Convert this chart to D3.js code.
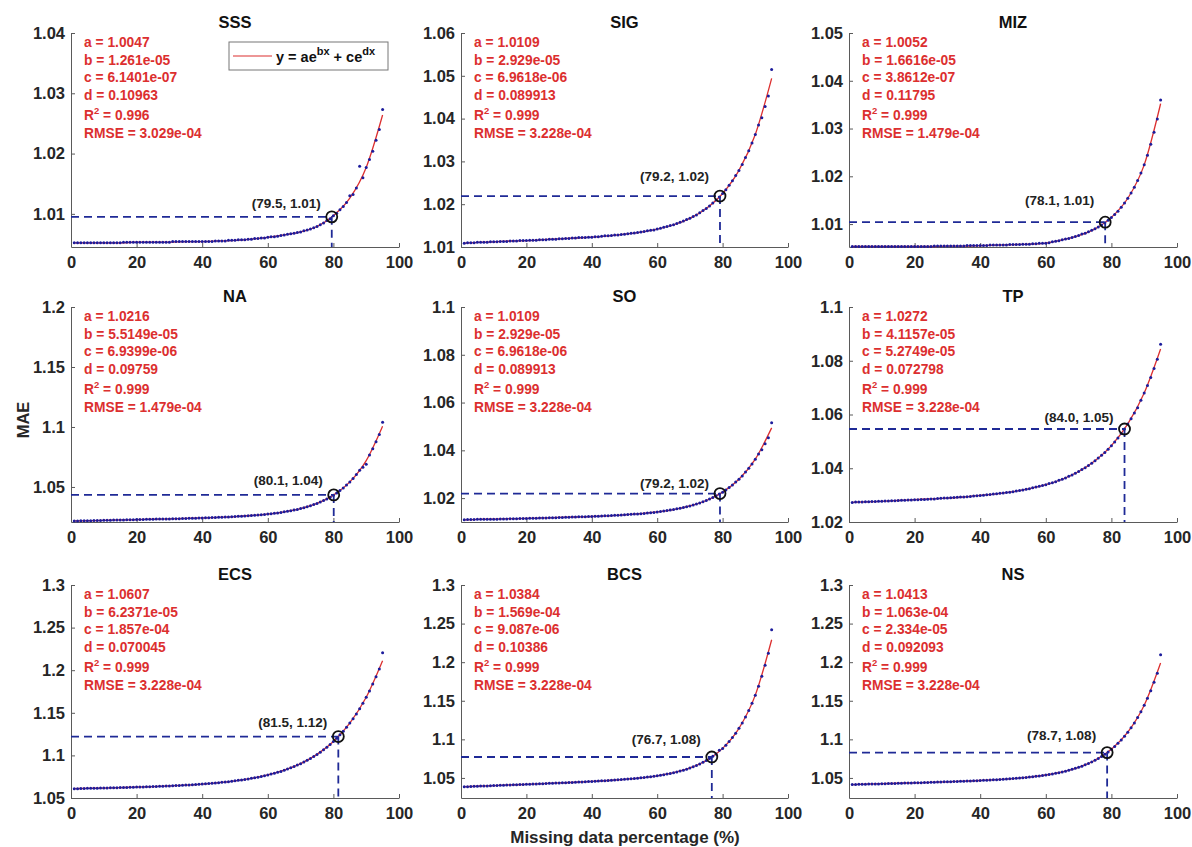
<!DOCTYPE html>
<html><head><meta charset="utf-8">
<script src="https://cdn.jsdelivr.net/npm/d3@7"></script>
<style>
body{margin:0;background:#fff}
svg{display:block}
text{font-family:"Liberation Sans",Arial,Helvetica,sans-serif}
</style>
</head><body>
<svg id="c" width="1192" height="847"></svg>
<script>
// ---------------- DATA ----------------
const PANEL_NAMES = ["SSS","SIG","MIZ","NA","SO","TP","ECS","BCS","NS"];
const MISSING_PCT = [1,2,3,4,5,6,7,8,9,10,11,12,13,14,15,16,17,18,19,20,21,22,23,24,25,26,27,28,29,30,
  31,32,33,34,35,36,37,38,39,40,41,42,43,44,45,46,47,48,49,50,51,52,53,54,55,56,57,58,59,60,
  61,62,63,64,65,66,67,68,69,70,71,72,73,74,75,76,77,78,79,80,81,82,83,84,85,86,87,88,89,90,91,92,93,94,95];
const X_TICKS = [0,20,40,60,80,100];

const SSS_MAE = [1.0052,1.0052,1.0052,1.0052,1.0052,1.0052,1.0052,1.0052,1.0052,1.0052,
 1.0052,1.0052,1.0052,1.0052,1.0052,1.0053,1.0053,1.0053,1.0053,1.0053,
 1.0053,1.0053,1.0053,1.0053,1.0053,1.0053,1.0053,1.0053,1.0053,1.0053,
 1.0054,1.0054,1.0054,1.0054,1.0054,1.0054,1.0054,1.0054,1.0054,1.0054,
 1.0054,1.0054,1.0054,1.0055,1.0055,1.0055,1.0055,1.0056,1.0056,1.0056,
 1.0057,1.0057,1.0057,1.0058,1.0058,1.0059,1.0059,1.0060,1.0060,1.0061,
 1.0062,1.0062,1.0063,1.0064,1.0065,1.0066,1.0067,1.0068,1.0069,1.0070,
 1.0072,1.0073,1.0075,1.0077,1.0079,1.0082,1.0085,1.0089,1.0092,1.0097,
 1.0101,1.0107,1.0112,1.0119,1.0130,1.0132,1.0143,1.0179,1.0160,1.0177,
 1.0190,1.0204,1.0222,1.0240,1.0273];
const SIG_MAE = [1.0109,1.0110,1.0110,1.0110,1.0111,1.0111,1.0111,1.0111,1.0112,1.0112,
 1.0112,1.0113,1.0113,1.0113,1.0114,1.0114,1.0114,1.0115,1.0115,1.0115,
 1.0116,1.0116,1.0116,1.0117,1.0117,1.0117,1.0118,1.0118,1.0118,1.0119,
 1.0119,1.0120,1.0120,1.0121,1.0121,1.0122,1.0122,1.0122,1.0123,1.0123,
 1.0124,1.0124,1.0125,1.0126,1.0126,1.0127,1.0128,1.0128,1.0129,1.0130,
 1.0131,1.0132,1.0133,1.0134,1.0135,1.0136,1.0138,1.0139,1.0140,1.0142,
 1.0144,1.0146,1.0148,1.0150,1.0152,1.0155,1.0158,1.0161,1.0164,1.0167,
 1.0171,1.0175,1.0180,1.0185,1.0190,1.0196,1.0203,1.0210,1.0217,1.0225,
 1.0234,1.0244,1.0255,1.0267,1.0279,1.0293,1.0309,1.0325,1.0343,1.0363,
 1.0385,1.0402,1.0428,1.0453,1.0515];
const MIZ_MAE = [1.0053,1.0053,1.0053,1.0053,1.0053,1.0053,1.0053,1.0053,1.0053,1.0053,
 1.0053,1.0053,1.0053,1.0053,1.0053,1.0053,1.0053,1.0053,1.0053,1.0053,
 1.0053,1.0053,1.0053,1.0053,1.0053,1.0054,1.0054,1.0054,1.0054,1.0054,
 1.0054,1.0054,1.0054,1.0054,1.0054,1.0055,1.0055,1.0055,1.0055,1.0055,
 1.0055,1.0055,1.0056,1.0056,1.0056,1.0056,1.0056,1.0056,1.0057,1.0057,
 1.0057,1.0057,1.0058,1.0058,1.0058,1.0059,1.0059,1.0060,1.0060,1.0060,
 1.0061,1.0063,1.0064,1.0065,1.0067,1.0069,1.0070,1.0072,1.0074,1.0076,
 1.0079,1.0081,1.0084,1.0087,1.0090,1.0094,1.0098,1.0103,1.0108,1.0114,
 1.0120,1.0127,1.0135,1.0144,1.0154,1.0165,1.0177,1.0191,1.0207,1.0224,
 1.0244,1.0267,1.0292,1.0320,1.0360];
const NA_MAE = [1.0217,1.0217,1.0218,1.0218,1.0219,1.0219,1.0220,1.0221,1.0221,1.0222,
 1.0222,1.0223,1.0224,1.0224,1.0225,1.0225,1.0226,1.0227,1.0227,1.0228,
 1.0229,1.0229,1.0230,1.0230,1.0231,1.0232,1.0232,1.0233,1.0234,1.0234,
 1.0235,1.0236,1.0236,1.0237,1.0238,1.0239,1.0239,1.0240,1.0241,1.0242,
 1.0243,1.0244,1.0245,1.0246,1.0247,1.0248,1.0249,1.0250,1.0251,1.0253,
 1.0255,1.0256,1.0258,1.0260,1.0262,1.0264,1.0266,1.0269,1.0271,1.0274,
 1.0277,1.0280,1.0284,1.0288,1.0293,1.0297,1.0302,1.0307,1.0313,1.0320,
 1.0327,1.0335,1.0343,1.0353,1.0363,1.0374,1.0387,1.0400,1.0415,1.0432,
 1.0450,1.0470,1.0492,1.0516,1.0542,1.0571,1.0603,1.0639,1.0665,1.0690,
 1.0767,1.0819,1.0876,1.0938,1.1040];
const SO_MAE = [1.0109,1.0110,1.0110,1.0110,1.0111,1.0111,1.0111,1.0111,1.0112,1.0112,
 1.0112,1.0113,1.0113,1.0113,1.0114,1.0114,1.0114,1.0115,1.0115,1.0115,
 1.0116,1.0116,1.0116,1.0117,1.0117,1.0117,1.0118,1.0118,1.0118,1.0119,
 1.0119,1.0120,1.0120,1.0121,1.0121,1.0122,1.0122,1.0122,1.0123,1.0123,
 1.0124,1.0124,1.0125,1.0126,1.0126,1.0127,1.0128,1.0128,1.0129,1.0130,
 1.0131,1.0132,1.0133,1.0134,1.0135,1.0136,1.0138,1.0139,1.0140,1.0142,
 1.0144,1.0146,1.0148,1.0150,1.0152,1.0155,1.0158,1.0161,1.0164,1.0167,
 1.0171,1.0175,1.0180,1.0185,1.0190,1.0196,1.0203,1.0210,1.0217,1.0225,
 1.0234,1.0244,1.0255,1.0267,1.0279,1.0293,1.0309,1.0325,1.0343,1.0363,
 1.0385,1.0402,1.0428,1.0453,1.0515];
const TP_MAE = [1.0273,1.0274,1.0274,1.0274,1.0275,1.0275,1.0276,1.0276,1.0277,1.0277,
 1.0278,1.0278,1.0279,1.0279,1.0280,1.0281,1.0281,1.0282,1.0282,1.0283,
 1.0283,1.0284,1.0284,1.0285,1.0286,1.0286,1.0287,1.0288,1.0289,1.0289,
 1.0290,1.0291,1.0292,1.0293,1.0293,1.0294,1.0295,1.0297,1.0298,1.0299,
 1.0300,1.0301,1.0302,1.0304,1.0305,1.0307,1.0308,1.0310,1.0311,1.0313,
 1.0315,1.0317,1.0319,1.0322,1.0324,1.0327,1.0330,1.0333,1.0336,1.0339,
 1.0343,1.0346,1.0350,1.0355,1.0359,1.0364,1.0370,1.0375,1.0381,1.0388,
 1.0395,1.0402,1.0410,1.0419,1.0428,1.0438,1.0448,1.0459,1.0471,1.0484,
 1.0498,1.0513,1.0529,1.0546,1.0565,1.0584,1.0606,1.0625,1.0653,1.0680,
 1.0708,1.0738,1.0771,1.0806,1.0861];
const ECS_MAE = [1.0610,1.0610,1.0611,1.0612,1.0613,1.0614,1.0614,1.0615,1.0616,1.0617,
 1.0618,1.0619,1.0620,1.0621,1.0622,1.0623,1.0624,1.0625,1.0627,1.0628,
 1.0629,1.0630,1.0631,1.0632,1.0634,1.0636,1.0637,1.0638,1.0640,1.0642,
 1.0644,1.0646,1.0647,1.0649,1.0652,1.0654,1.0656,1.0659,1.0661,1.0664,
 1.0667,1.0670,1.0673,1.0676,1.0680,1.0684,1.0688,1.0692,1.0697,1.0702,
 1.0707,1.0712,1.0717,1.0723,1.0731,1.0738,1.0745,1.0753,1.0762,1.0771,
 1.0781,1.0791,1.0801,1.0812,1.0826,1.0840,1.0854,1.0871,1.0887,1.0903,
 1.0922,1.0942,1.0964,1.0986,1.1012,1.1038,1.1066,1.1096,1.1129,1.1164,
 1.1201,1.1241,1.1284,1.1329,1.1379,1.1431,1.1487,1.1547,1.1612,1.1682,
 1.1757,1.1837,1.1923,1.2014,1.2205];
const BCS_MAE = [1.0386,1.0387,1.0389,1.0391,1.0392,1.0394,1.0396,1.0397,1.0399,1.0401,
 1.0402,1.0404,1.0406,1.0407,1.0409,1.0411,1.0412,1.0414,1.0416,1.0417,
 1.0419,1.0421,1.0423,1.0424,1.0426,1.0428,1.0430,1.0431,1.0433,1.0435,
 1.0437,1.0438,1.0440,1.0442,1.0444,1.0446,1.0448,1.0450,1.0453,1.0455,
 1.0457,1.0460,1.0462,1.0464,1.0467,1.0470,1.0473,1.0476,1.0479,1.0482,
 1.0485,1.0489,1.0493,1.0497,1.0501,1.0506,1.0511,1.0516,1.0522,1.0528,
 1.0535,1.0542,1.0550,1.0558,1.0568,1.0578,1.0589,1.0601,1.0614,1.0629,
 1.0645,1.0662,1.0681,1.0702,1.0726,1.0751,1.0780,1.0811,1.0860,1.0883,
 1.0925,1.0972,1.1023,1.1080,1.1143,1.1212,1.1289,1.1374,1.1468,1.1573,
 1.1689,1.1817,1.1959,1.2116,1.2420];
const NS_MAE = [1.0414,1.0415,1.0417,1.0418,1.0419,1.0420,1.0421,1.0422,1.0423,1.0425,
 1.0426,1.0427,1.0428,1.0429,1.0431,1.0432,1.0433,1.0434,1.0435,1.0437,
 1.0438,1.0439,1.0441,1.0442,1.0443,1.0445,1.0446,1.0447,1.0449,1.0450,
 1.0452,1.0453,1.0455,1.0456,1.0458,1.0460,1.0461,1.0463,1.0465,1.0467,
 1.0469,1.0471,1.0473,1.0475,1.0478,1.0480,1.0483,1.0486,1.0488,1.0492,
 1.0495,1.0499,1.0502,1.0506,1.0511,1.0516,1.0521,1.0526,1.0532,1.0538,
 1.0545,1.0552,1.0560,1.0568,1.0578,1.0588,1.0599,1.0611,1.0624,1.0638,
 1.0653,1.0670,1.0688,1.0708,1.0729,1.0753,1.0778,1.0807,1.0837,1.0871,
 1.0908,1.0948,1.0992,1.1040,1.1093,1.1150,1.1213,1.1282,1.1358,1.1441,
 1.1531,1.1630,1.1739,1.1858,1.2095];

// fitted curve y = a e^{bx} + c e^{dx} at these x
const FIT_PCT = [1,5,10,15,20,25,30,35,40,45,50,55,60,65,70,75,80,85,90,95];
const SSS_FIT = [1.0052,1.0052,1.0052,1.0052,1.0053,1.0053,1.0053,1.0054,1.0054,1.0055,1.0056,1.0058,1.0061,1.0065,1.0070,1.0079,1.0097,1.0126,1.0177,1.0264];
const SIG_FIT = [1.0109,1.0111,1.0112,1.0114,1.0115,1.0117,1.0119,1.0121,1.0123,1.0126,1.0130,1.0135,1.0142,1.0152,1.0167,1.0190,1.0225,1.0279,1.0363,1.0494];
const MIZ_FIT = [1.0053,1.0053,1.0053,1.0053,1.0053,1.0053,1.0054,1.0054,1.0055,1.0056,1.0057,1.0058,1.0060,1.0067,1.0076,1.0090,1.0114,1.0154,1.0224,1.0352];
const NA_FIT  = [1.0217,1.0219,1.0222,1.0225,1.0228,1.0231,1.0234,1.0238,1.0242,1.0247,1.0253,1.0262,1.0274,1.0293,1.0320,1.0363,1.0432,1.0542,1.0720,1.1007];
const SO_FIT  = [1.0109,1.0111,1.0112,1.0114,1.0115,1.0117,1.0119,1.0121,1.0123,1.0126,1.0130,1.0135,1.0142,1.0152,1.0167,1.0190,1.0225,1.0279,1.0363,1.0494];
const TP_FIT  = [1.0273,1.0275,1.0277,1.0280,1.0283,1.0286,1.0289,1.0293,1.0299,1.0305,1.0313,1.0324,1.0339,1.0359,1.0388,1.0428,1.0484,1.0565,1.0680,1.0844];
const ECS_FIT = [1.0610,1.0613,1.0617,1.0622,1.0628,1.0634,1.0642,1.0652,1.0664,1.0680,1.0702,1.0731,1.0771,1.0826,1.0903,1.1012,1.1164,1.1379,1.1682,1.2111];
const BCS_FIT = [1.0386,1.0392,1.0401,1.0409,1.0417,1.0426,1.0435,1.0444,1.0455,1.0467,1.0482,1.0501,1.0528,1.0568,1.0629,1.0726,1.0883,1.1143,1.1573,1.2291];
const NS_FIT  = [1.0414,1.0419,1.0425,1.0431,1.0437,1.0443,1.0450,1.0458,1.0467,1.0478,1.0492,1.0511,1.0538,1.0578,1.0638,1.0729,1.0871,1.1093,1.1441,1.1989];

const FIT_A = ["1.0047","1.0109","1.0052","1.0216","1.0109","1.0272","1.0607","1.0384","1.0413"];
const FIT_B = ["1.261e-05","2.929e-05","1.6616e-05","5.5149e-05","2.929e-05","4.1157e-05","6.2371e-05","1.569e-04","1.063e-04"];
const FIT_C = ["6.1401e-07","6.9618e-06","3.8612e-07","6.9399e-06","6.9618e-06","5.2749e-05","1.857e-04","9.087e-06","2.334e-05"];
const FIT_D = ["0.10963","0.089913","0.11795","0.09759","0.089913","0.072798","0.070045","0.10386","0.092093"];
const FIT_R2 = ["0.996","0.999","0.999","0.999","0.999","0.999","0.999","0.999","0.999"];
const FIT_RMSE = ["3.029e-04","3.228e-04","1.479e-04","1.479e-04","3.228e-04","3.228e-04","3.228e-04","3.228e-04","3.228e-04"];

const MARK_X = [79.5, 79.2, 78.1, 80.1, 79.2, 84.0, 81.5, 76.7, 78.7];
const MARK_Y = [1.0095, 1.0219, 1.0104, 1.0434, 1.0219, 1.0546, 1.1221, 1.0771, 1.0828];
const MARK_LABEL = ["(79.5, 1.01)","(79.2, 1.02)","(78.1, 1.01)","(80.1, 1.04)","(79.2, 1.02)","(84.0, 1.05)","(81.5, 1.12)","(76.7, 1.08)","(78.7, 1.08)"];

const Y_MIN = [1.0045, 1.01, 1.0052, 1.0208, 1.01, 1.02, 1.05, 1.024, 1.024];
const Y_MAX = [1.04, 1.06, 1.05, 1.2, 1.1, 1.1, 1.3, 1.3, 1.3];
const Y_TICKS = [
  [1.01,1.02,1.03,1.04],
  [1.01,1.02,1.03,1.04,1.05,1.06],
  [1.01,1.02,1.03,1.04,1.05],
  [1.05,1.1,1.15,1.2],
  [1.02,1.04,1.06,1.08,1.1],
  [1.02,1.04,1.06,1.08,1.1],
  [1.05,1.1,1.15,1.2,1.25,1.3],
  [1.05,1.1,1.15,1.2,1.25,1.3],
  [1.05,1.1,1.15,1.2,1.25,1.3]
];
const PANEL_MAE = [SSS_MAE, SIG_MAE, MIZ_MAE, NA_MAE, SO_MAE, TP_MAE, ECS_MAE, BCS_MAE, NS_MAE];
const PANEL_FIT = [SSS_FIT, SIG_FIT, MIZ_FIT, NA_FIT, SO_FIT, TP_FIT, ECS_FIT, BCS_FIT, NS_FIT];

// ---------------- LAYOUT / STYLE ----------------
const COL_X = [[71,399],[461,788],[849,1177]];
const ROW_Y = [[33,247],[307,522],[585,798]];
const LABEL_RISE = [14,20,22,15,11,12,15,18,18];
const RED = "#dc2f2f", BLUE_DOT = "#1c1c9c", DASH = "#1f2a96", AXIS = "#5a5a5a", TXT = "#262626";
const FONT = '"Liberation Sans", Arial, sans-serif';

const svg = d3.select("#c");
svg.append("rect").attr("width",1192).attr("height",847).attr("fill","#fff");

const yFmt = v => String(+v.toFixed(4));

PANEL_NAMES.forEach((name, i) => {
  const [x0, x1] = COL_X[i % 3];
  const [t, b] = ROW_Y[Math.floor(i / 3)];
  const x = d3.scaleLinear().domain([0, 100]).range([x0, x1]);
  const y = d3.scaleLinear().domain([Y_MIN[i], Y_MAX[i]]).range([b, t]);
  const g = svg.append("g");

  // axes
  const gx = g.append("g").attr("transform", `translate(0,${b})`)
    .call(d3.axisBottom(x).tickValues(X_TICKS).tickSizeInner(-4).tickSizeOuter(0).tickPadding(9).tickFormat(d3.format("d")));
  const gy = g.append("g").attr("transform", `translate(${x0},0)`)
    .call(d3.axisLeft(y).tickValues(Y_TICKS[i]).tickSizeInner(-4).tickSizeOuter(0).tickPadding(6).tickFormat(yFmt));
  [gx, gy].forEach(a => {
    a.attr("font-family", FONT).attr("font-size", 16.5).attr("font-weight", "bold");
    a.select(".domain").attr("stroke", AXIS).attr("stroke-width", 1);
    a.selectAll(".tick line").attr("stroke", AXIS);
    a.selectAll(".tick text").attr("fill", TXT);
  });

  // fitted curve
  const line = d3.line().x(d => x(d[0])).y(d => y(d[1])).curve(d3.curveMonotoneX);
  g.append("path").datum(FIT_PCT.map((p, k) => [p, PANEL_FIT[i][k]]))
    .attr("d", line).attr("fill", "none").attr("stroke", RED).attr("stroke-width", 1.3);

  // data points
  g.selectAll("circle.pt").data(MISSING_PCT.map((p, k) => [p, PANEL_MAE[i][k]]))
    .join("circle").attr("class", "pt")
    .attr("cx", d => x(d[0])).attr("cy", d => y(d[1])).attr("r", 1.5).attr("fill", BLUE_DOT);

  // guide lines to the marked point
  const mx = x(MARK_X[i]), my = y(MARK_Y[i]);
  g.append("line").attr("x1", x(0)).attr("x2", mx).attr("y1", my).attr("y2", my)
    .attr("stroke", DASH).attr("stroke-width", 1.8).attr("stroke-dasharray", "8,5");
  g.append("line").attr("x1", mx).attr("x2", mx).attr("y1", my).attr("y2", y(Y_MIN[i]))
    .attr("stroke", DASH).attr("stroke-width", 1.8).attr("stroke-dasharray", "8,5");
  g.append("circle").attr("cx", mx).attr("cy", my).attr("r", 5.5)
    .attr("fill", "none").attr("stroke", "#111").attr("stroke-width", 1.8);
  g.append("text").attr("x", mx - 11).attr("y", my - LABEL_RISE[i] + 5)
    .attr("text-anchor", "end").attr("font-size", 13.5).attr("font-weight", "bold").attr("fill", "#222")
    .text(MARK_LABEL[i]);

  // title
  g.append("text").attr("x", (x0 + x1) / 2).attr("y", t - 5).attr("text-anchor", "middle")
    .attr("font-size", 16.5).attr("font-weight", "bold").attr("fill", "#111").text(name);

  // fit parameter annotation
  const ax = x0 + 13;
  const lines = [
    {y: 14, txt: "a = " + FIT_A[i]},
    {y: 32, txt: "b = " + FIT_B[i]},
    {y: 49, txt: "c = " + FIT_C[i]},
    {y: 67, txt: "d = " + FIT_D[i]},
    {y: 105, txt: "RMSE = " + FIT_RMSE[i]}
  ];
  lines.forEach(l => g.append("text").attr("x", ax).attr("y", t + l.y)
    .attr("font-size", 13.8).attr("font-weight", "bold").attr("fill", RED).text(l.txt));
  const r2 = g.append("text").attr("x", ax).attr("y", t + 87)
    .attr("font-size", 13.8).attr("font-weight", "bold").attr("fill", RED);
  r2.append("tspan").text("R");
  r2.append("tspan").attr("font-size", 9.5).attr("dy", -6).text("2");
  r2.append("tspan").attr("dy", 6).text(" = " + FIT_R2[i]);

  // legend (first panel only)
  if (i === 0) {
    const lg = g.append("g");
    lg.append("rect").attr("x", 229).attr("y", 42).attr("width", 159).attr("height", 28)
      .attr("fill", "#fff").attr("stroke", "#777").attr("stroke-width", 1);
    lg.append("line").attr("x1", 233).attr("x2", 272).attr("y1", 56).attr("y2", 56)
      .attr("stroke", RED).attr("stroke-width", 1.1);
    const lt = lg.append("text").attr("x", 276).attr("y", 62)
      .attr("font-size", 14.5).attr("font-weight", "bold").attr("fill", "#111");
    lt.append("tspan").text("y = ae");
    lt.append("tspan").attr("font-size", 11).attr("dy", -7).text("bx");
    lt.append("tspan").attr("dy", 7).text(" + ce");
    lt.append("tspan").attr("font-size", 11).attr("dy", -7).text("dx");
  }
});

// shared axis titles
svg.append("text").attr("transform", "translate(29,420) rotate(-90)").attr("text-anchor", "middle")
  .attr("font-size", 16.5).attr("font-weight", "bold").attr("fill", TXT).text("MAE");
svg.append("text").attr("x", 625).attr("y", 843).attr("text-anchor", "middle")
  .attr("font-size", 17).attr("font-weight", "bold").attr("fill", TXT).text("Missing data percentage (%)");
</script>
</body></html>
